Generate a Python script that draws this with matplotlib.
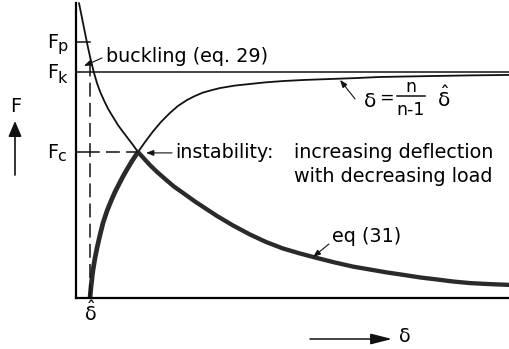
import matplotlib
matplotlib.use("Agg")
import matplotlib.pyplot as plt
from matplotlib.patches import FancyArrowPatch
import numpy as np

plt.rcParams['font.family'] = ['DejaVu Sans']
plt.rcParams['mathtext.fontset'] = 'custom'
plt.rcParams['mathtext.rm'] = 'DejaVu Sans'
plt.rcParams['mathtext.it'] = 'DejaVu Sans'
plt.rcParams['lines.scale_dashes'] = False

# deflection in units of delta_hat, load in units of F_k
delta_hat = 1.0
F_k = 1.0
F_p = 1.133
F_c = 0.646
delta_c = 4.429

# delta = n/(n-1) * delta_hat  (rising branch)
rise_delta = [1.000, 1.071, 1.143, 1.214, 1.357, 1.500, 1.714, 1.929, 2.214, 2.500,
              2.786, 3.071, 3.357, 3.643, 4.000, 4.429, 4.929, 5.500, 6.071, 6.714,
              7.286, 7.929, 8.500, 9.071, 9.714, 10.286, 11.357, 12.429, 13.500,
              14.786, 16.357, 18.143, 19.929, 21.714, 23.500, 25.286, 28.143, 30.929]
rise_F = [0.000, 0.049, 0.088, 0.124, 0.177, 0.221, 0.279, 0.332, 0.385, 0.429,
          0.469, 0.504, 0.538, 0.569, 0.606, 0.646, 0.690, 0.737, 0.779, 0.819,
          0.850, 0.876, 0.894, 0.909, 0.920, 0.929, 0.940, 0.947, 0.954,
          0.960, 0.965, 0.969, 0.973, 0.978, 0.980, 0.982, 0.985, 0.987]

# eq (31)  (falling branch)
fall_delta = [0.214, 0.429, 0.643, 0.857, 1.071, 1.286, 1.500, 1.714, 2.000, 2.286,
              2.643, 3.000, 3.357, 3.714, 4.071, 4.429, 4.857, 5.286, 5.786, 6.357,
              7.000, 7.643, 8.500, 9.357, 10.071, 11.214, 12.429, 13.571, 14.786,
              16.000, 17.214, 18.500, 19.786, 21.000, 22.214, 23.429, 24.571,
              25.786, 26.929, 28.143, 29.357, 30.929]
fall_F = [1.305, 1.239, 1.173, 1.108, 1.049, 0.996, 0.951, 0.914, 0.874, 0.838,
          0.801, 0.765, 0.735, 0.706, 0.677, 0.646, 0.617, 0.588, 0.558, 0.527,
          0.493, 0.465, 0.427, 0.392, 0.363, 0.321, 0.281, 0.248, 0.219,
          0.197, 0.177, 0.157, 0.139, 0.126, 0.113, 0.102, 0.091,
          0.082, 0.073, 0.066, 0.062, 0.058]

W, H = 509, 349
fig = plt.figure(figsize=(W / 100, H / 100), dpi=100)
ax = fig.add_axes([76 / W, 51 / H, 433 / W, 298 / H])
ax.set_xlim(0, 30.93)
ax.set_ylim(0, 1.3186)
ax.set_xticks([])
ax.set_yticks([])
for s in ['top', 'right']:
    ax.spines[s].set_visible(False)
ax.spines['left'].set_linewidth(1.6)
ax.spines['bottom'].set_linewidth(1.6)
ax.spines['left'].set_bounds(0, fall_F[0])

ink = '#111111'
rd = np.array(rise_delta); rf = np.array(rise_F)
fd = np.array(fall_delta); ff = np.array(fall_F)

# thin parts
ax.plot(rd[rd >= delta_c], rf[rd >= delta_c], color=ink, lw=1.3, solid_capstyle='round')
ax.plot(fd[fd <= delta_c], ff[fd <= delta_c], color=ink, lw=1.3, solid_capstyle='round')
# thick (unstable path) parts
ax.plot(rd[rd <= delta_c], rf[rd <= delta_c], color='#2a2a2a', lw=3.4,
        solid_capstyle='round', solid_joinstyle='round')
ax.plot(fd[fd >= delta_c], ff[fd >= delta_c], color='#2a2a2a', lw=3.1,
        solid_capstyle='round', solid_joinstyle='round')

# critical load line
ax.axhline(F_k, color=ink, lw=1.1)
# tick marks at F_p and F_c
ax.plot([0, delta_hat], [F_p, F_p], color=ink, lw=1.1)
ax.plot([0, delta_hat], [F_c, F_c], color=ink, lw=1.1)
# dashed guides
ax.plot([delta_hat, delta_hat], [0, 1.03], color=ink, lw=1.1, linestyle=(0, (10, 4.5)))
ax.plot([delta_hat, delta_c], [F_c, F_c], color=ink, lw=1.1, linestyle=(3, (10, 4.5)))

fs = 13.8
# load labels on the left
for val, sub, drop in [(F_p, 'p', 2.2), (F_k, 'k', 3.2), (F_c, 'c', 1.6)]:
    ax.annotate('F', xy=(0, val), xytext=(-21, -4.6), textcoords='offset points',
                fontsize=fs, ha='left', va='baseline', annotation_clip=False)
    ax.annotate(sub, xy=(0, val), xytext=(-13.6, -4.6 - drop), textcoords='offset points',
                fontsize=11.5, ha='left', va='baseline', annotation_clip=False)

ax.annotate(r'$\hat{\delta}$', xy=(delta_hat, 0), xytext=(0, -1.5),
            textcoords='offset points', fontsize=fs, ha='center', va='top',
            annotation_clip=False)

small = dict(arrowstyle='-|>,head_length=0.45,head_width=0.17', color=ink, lw=0.8,
             shrinkA=0, shrinkB=0)

ax.annotate('', xy=(0.57, 1.027), xytext=(1.86, 1.062), arrowprops=small)
ax.text(2.14, 1.044, 'buckling (eq. 29)', fontsize=fs, va='baseline')

ax.annotate('', xy=(5.0, 0.642), xytext=(6.86, 0.642), arrowprops=small)
ax.text(7.07, 0.619, 'instability:', fontsize=fs, va='baseline')
ax.text(15.57, 0.619, 'increasing deflection', fontsize=fs, va='baseline')
ax.text(15.57, 0.513, 'with decreasing load', fontsize=fs, va='baseline')

ax.annotate('', xy=(16.93, 0.181), xytext=(18.07, 0.239), arrowprops=small)
ax.text(18.29, 0.248, 'eq (31)', fontsize=fs, va='baseline')

# delta = n/(n-1) * delta_hat, set as a built-up fraction
ax.annotate('', xy=(18.86, 0.965), xytext=(19.93, 0.881), arrowprops=small)
ax.text(20.5, 0.845, r'$\delta$', fontsize=14.5, va='baseline')
ax.text(22.21, 0.862, '=', fontsize=12.5, ha='center', va='baseline')
ax.text(23.93, 0.912, 'n', fontsize=12.5, ha='center', va='baseline')
ax.plot([22.93, 24.93], [0.894, 0.894], color=ink, lw=1.1)
ax.text(23.93, 0.810, 'n-1', fontsize=12.5, ha='center', va='baseline')
ax.text(25.79, 0.845, r'$\hat{\delta}$', fontsize=14.5, va='baseline')

# axis direction arrows
fig.text(15.5 / W, 1 - 106.5 / H, 'F', fontsize=fs, ha='center', va='center')
fig.patches.append(FancyArrowPatch((15 / W, 1 - 175 / H), (15 / W, 1 - 121 / H),
                                   transform=fig.transFigure, color=ink, lw=1.2,
                                   arrowstyle='-|>,head_length=9.4,head_width=4',
                                   mutation_scale=1, shrinkA=0, shrinkB=0))
fig.patches.append(FancyArrowPatch((310 / W, 1 - 339 / H), (392 / W, 1 - 339 / H),
                                   transform=fig.transFigure, color=ink, lw=1.1,
                                   arrowstyle='-|>,head_length=13,head_width=3.3',
                                   mutation_scale=1, shrinkA=0, shrinkB=0))
fig.text(398 / W, 1 - 336 / H, r'$\delta$', fontsize=fs, ha='left', va='center')

fig.savefig('out.png', dpi=100)
